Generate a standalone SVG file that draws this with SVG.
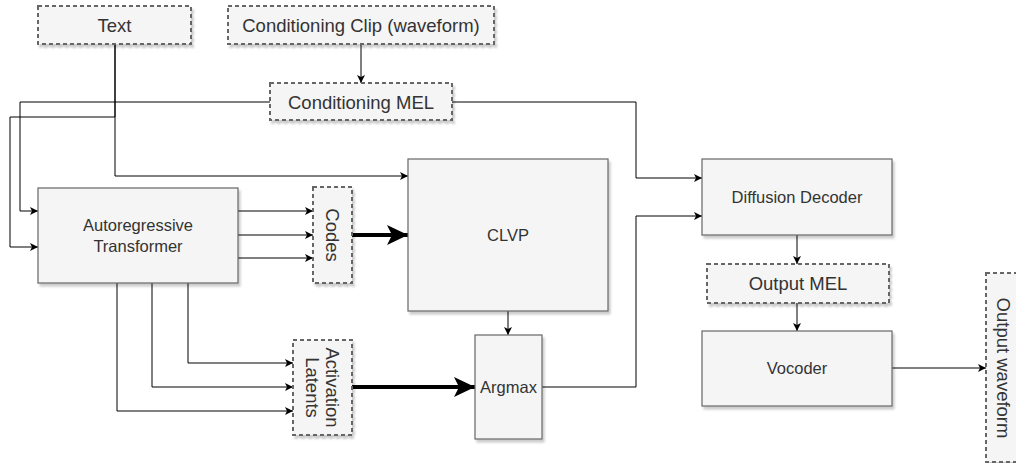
<svg xmlns="http://www.w3.org/2000/svg" width="1016" height="463" viewBox="0 0 1016 463">
<style>
.node{fill:#f5f5f5;stroke:#666;stroke-width:1.2;filter:url(#sh)}
.dash{fill:#f5f5f5;stroke:#666;stroke-width:2;stroke-dasharray:4 3;filter:url(#sh)}
.t{font-family:"Liberation Sans",Arial,sans-serif;fill:#333;text-anchor:middle;dominant-baseline:central}
.s{font-size:16.5px}
.d{font-size:18.5px}
.c{fill:none;stroke:#000;stroke-width:1}
.thick{fill:none;stroke:#000;stroke-width:4}
</style>
<defs>
<filter id="sh" x="-10%" y="-10%" width="130%" height="130%">
<feDropShadow dx="2" dy="3" stdDeviation="1" flood-color="#000" flood-opacity="0.2"/>
</filter>
<marker id="a" markerUnits="userSpaceOnUse" markerWidth="10" markerHeight="10" refX="8" refY="4" orient="auto">
<path d="M0,0 L8,4 L0,8 L2,4 z" fill="#000"/>
</marker>
<marker id="A" markerUnits="userSpaceOnUse" markerWidth="24" markerHeight="22" refX="21" refY="10" orient="auto">
<path d="M0,0 L21,10 L0,20 L5,10 z" fill="#000"/>
</marker>
</defs>
<g id="connectors">
<path class="c" d="M115,45 V176 H408" marker-end="url(#a)"/>
<path class="c" d="M115,45 V117 H10 V247 H38" marker-end="url(#a)"/>
<path class="c" d="M270,102 H20 V211 H38" marker-end="url(#a)"/>
<path class="c" d="M361,45 V83" marker-end="url(#a)"/>
<path class="c" d="M452,102 H636 V178 H702" marker-end="url(#a)"/>
<path class="c" d="M238,211 H313" marker-end="url(#a)"/>
<path class="c" d="M238,235 H313" marker-end="url(#a)"/>
<path class="c" d="M238,258 H313" marker-end="url(#a)"/>
<path class="thick" d="M352,235 H408" marker-end="url(#A)"/>
<path class="c" d="M508,311 V335" marker-end="url(#a)"/>
<path class="c" d="M188,283 V363 H293" marker-end="url(#a)"/>
<path class="c" d="M152,283 V387 H293" marker-end="url(#a)"/>
<path class="c" d="M117,283 V411 H293" marker-end="url(#a)"/>
<path class="thick" d="M352,387 H475" marker-end="url(#A)"/>
<path class="c" d="M542,387 H636 V216 H702" marker-end="url(#a)"/>
<path class="c" d="M797,235 V264" marker-end="url(#a)"/>
<path class="c" d="M797,303 V331" marker-end="url(#a)"/>
<path class="c" d="M892,368 H986" marker-end="url(#a)"/>
</g>
<g id="text-node">
<rect class="dash" x="38" y="6" width="153" height="38"/>
<text class="t d" x="114.5" y="25">Text</text>
</g>
<g id="conditioning-clip">
<rect class="dash" x="228" y="6" width="266" height="38"/>
<text class="t d" x="361" y="25">Conditioning Clip (waveform)</text>
</g>
<g id="conditioning-mel">
<rect class="dash" x="270" y="83" width="182" height="37"/>
<text class="t d" x="361" y="102">Conditioning MEL</text>
</g>
<g id="autoregressive-transformer">
<rect class="node" x="38" y="188" width="200" height="95"/>
<text class="t s" x="138" y="225">Autoregressive</text>
<text class="t s" x="138" y="246">Transformer</text>
</g>
<g id="codes">
<rect class="dash" x="313" y="187" width="39" height="96"/>
<text class="t d" transform="translate(332.5,235) rotate(90)" x="0" y="0">Codes</text>
</g>
<g id="clvp">
<rect class="node" x="408" y="159" width="200" height="152"/>
<text class="t s" x="508" y="235">CLVP</text>
</g>
<g id="activation-latents">
<rect class="dash" x="293" y="340" width="59" height="95"/>
<text class="t d" transform="translate(322.5,387.5) rotate(90)"><tspan x="0" y="-10">Activation</tspan><tspan x="0" y="10">Latents</tspan></text>
</g>
<g id="argmax">
<rect class="node" x="475" y="335" width="67" height="104"/>
<text class="t s" x="508.5" y="387">Argmax</text>
</g>
<g id="diffusion-decoder">
<rect class="node" x="702" y="159" width="190" height="76"/>
<text class="t s" x="797" y="197">Diffusion Decoder</text>
</g>
<g id="output-mel">
<rect class="dash" x="707" y="264" width="182" height="39"/>
<text class="t d" x="798" y="283">Output MEL</text>
</g>
<g id="vocoder">
<rect class="node" x="702" y="331" width="190" height="75"/>
<text class="t s" x="797" y="368">Vocoder</text>
</g>
<g id="output-waveform">
<rect class="dash" x="986" y="273" width="40" height="189"/>
<text class="t d" transform="translate(1003,368) rotate(90)" x="0" y="0">Output waveform</text>
</g>
</svg>
